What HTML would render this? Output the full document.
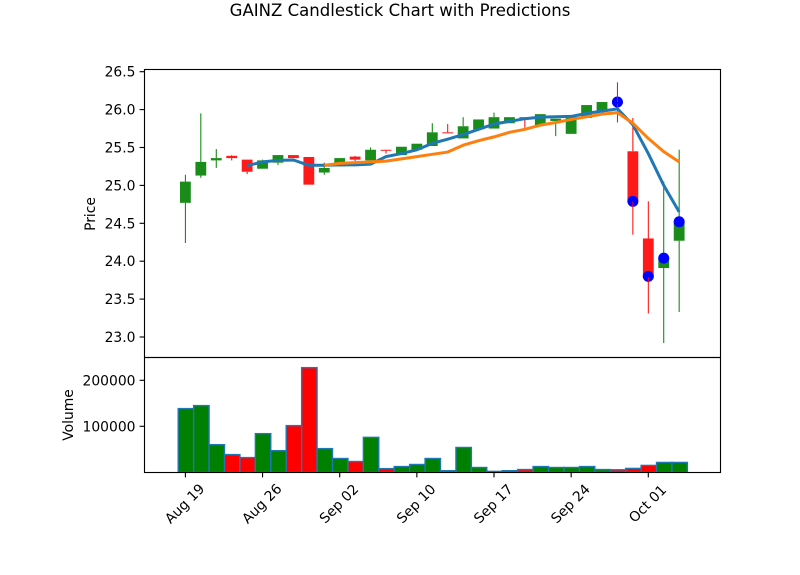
<!DOCTYPE html>
<html>
<head>
<meta charset="utf-8">
<title>GAINZ Candlestick Chart with Predictions</title>
<style>
html,body{margin:0;padding:0;background:#fff;}
svg{display:block;}
text{font-family:"DejaVu Sans","Liberation Sans",sans-serif;fill:#000;}
</style>
</head>
<body>
<svg id="chart" xmlns="http://www.w3.org/2000/svg" width="800" height="575" viewBox="0 0 800 575">
<text x="400" y="16" text-anchor="middle" font-size="16.55">GAINZ Candlestick Chart with Predictions</text>
<text transform="translate(95,214) rotate(-90)" text-anchor="middle" font-size="13.89">Price</text>
<text transform="translate(73,415) rotate(-90)" text-anchor="middle" font-size="13.89">Volume</text>
<g id="volume-layer"></g>
<g id="green-layer"></g>
<g id="red-body-layer"></g>
<g id="dot-layer"></g>
<g id="red-wick-layer"></g>
<g id="line-layer"></g>
<g id="axis-layer"></g>
</svg>
<script>
const opens = [24.77,25.13,25.33,25.39,25.34,25.22,25.30,25.40,25.375,25.17,25.25,25.38,25.33,25.47,25.40,25.47,25.52,25.70,25.62,25.74,25.75,25.82,25.90,25.79,25.85,25.68,25.89,25.97,26.10,25.45,24.30,23.91,24.27];
const highs = [25.14,25.95,25.48,25.40,25.34,25.34,25.40,25.40,25.375,25.30,25.36,25.39,25.50,25.47,25.51,25.55,25.82,25.81,25.90,25.87,25.96,25.90,25.90,25.94,25.88,25.92,26.06,26.10,26.36,25.89,24.79,25.05,25.47];
const lows = [24.24,25.10,25.23,25.33,25.15,25.22,25.27,25.36,25.01,25.14,25.25,25.32,25.33,25.42,25.40,25.47,25.52,25.69,25.62,25.74,25.75,25.82,25.76,25.79,25.65,25.68,25.89,25.97,25.83,24.35,23.31,22.92,23.33];
const closes = [25.05,25.31,25.36,25.36,25.18,25.33,25.40,25.36,25.01,25.23,25.36,25.34,25.47,25.46,25.51,25.55,25.70,25.69,25.78,25.87,25.90,25.90,25.89,25.94,25.88,25.92,26.06,26.10,26.08,24.79,23.79,24.04,24.52];
const volumes = [138500,145000,60000,38500,32000,84000,47000,101500,227500,51500,30000,23500,76000,8000,12500,17000,30000,3500,54000,10500,2000,3500,6000,12500,10500,10500,12500,6000,5500,8500,15000,21500,21500];
const blueLine = [null,null,null,null,25.26,25.31,25.33,25.335,25.265,25.265,25.27,25.27,25.28,25.38,25.42,25.47,25.555,25.61,25.67,25.74,25.81,25.845,25.88,25.90,25.905,25.91,25.95,25.98,26.01,25.80,25.42,25.00,24.65];
const orangeLine = [null,null,null,null,null,null,null,null,null,25.265,25.29,25.30,25.31,25.32,25.35,25.38,25.41,25.44,25.53,25.59,25.64,25.70,25.74,25.795,25.83,25.87,25.905,25.94,25.96,25.82,25.62,25.445,25.31];
const predictions = [null,null,null,null,null,null,null,null,null,null,null,null,null,null,null,null,null,null,null,null,null,null,null,null,null,null,null,null,26.10,24.79,23.80,24.04,24.52];
const xTickIndices = [0,5,10,15,20,25,30];
const xTickLabels = ["Aug 19","Aug 26","Sep 02","Sep 10","Sep 17","Sep 24","Oct 01"];
const priceTicks = [23,23.5,24,24.5,25,25.5,26,26.5];
const volumeTicks = [100000,200000];

const NS = "http://www.w3.org/2000/svg";
const PL = 144.5, PR = 720.5, PT = 69.5, PM = 357.5, PB = 472.5;
function xScale(i){ return 185.4 + 15.43 * i; }
function yPrice(p){ return 337 - (p - 23) * 75.8; }
function yVolume(v){ return 472.3 - v * 0.00046; }
function make(tag, parentId, attrs){
  const el = document.createElementNS(NS, tag);
  for (const k in attrs) el.setAttribute(k, attrs[k]);
  document.getElementById(parentId).appendChild(el);
  return el;
}

volumes.forEach(function(v, i){
  const up = closes[i] >= opens[i];
  const top = yVolume(v);
  const bar = make("rect", "volume-layer", {x: xScale(i) - 7.2, y: top, width: 15.43, height: 472.3 - top, fill: up ? "#008000" : "#ff0000", stroke: "#1f77b4", "stroke-width": 1.39});
  
  
});

opens.forEach(function(o, i){
  const c = closes[i];
  const up = c >= o;
  const x = xScale(i);
  const bodyTop = yPrice(Math.max(o, c));
  const bodyBottom = yPrice(Math.min(o, c));
  const color = up ? "#008000" : "#ff0000";
  const wickLayer = up ? "green-layer" : "red-wick-layer";
  const bodyLayer = up ? "green-layer" : "red-body-layer";
  const upper = make("line", wickLayer, {x1: x, x2: x, y1: yPrice(highs[i]), y2: bodyTop, stroke: color, "stroke-width": 1});
  
  
  const lower = make("line", wickLayer, {x1: x, x2: x, y1: bodyBottom, y2: yPrice(lows[i]), stroke: color, "stroke-width": 1});
  
  
  const body = make("rect", bodyLayer, {x: x - 5.4, y: bodyTop, width: 10.8, height: Math.max(bodyBottom - bodyTop, 1), fill: color, "fill-opacity": 0.9});
  
  
});

predictions.forEach(function(p, i){
  if (p === null) return;
  const dot = make("circle", "dot-layer", {cx: xScale(i), cy: yPrice(p), r: 5.5, fill: "#0000ff"});
  
  
});

function linePoints(arr){
  const pts = [];
  arr.forEach(function(v, i){ if (v !== null) pts.push(xScale(i).toFixed(2) + "," + yPrice(v).toFixed(2)); });
  return pts.join(" ");
}
const blue = make("polyline", "line-layer", {points: linePoints(blueLine), fill: "none", stroke: "#1f77b4", "stroke-width": 3, "stroke-linejoin": "round"});


const orange = make("polyline", "line-layer", {points: linePoints(orangeLine), fill: "none", stroke: "#ff7f0e", "stroke-width": 3, "stroke-linejoin": "round"});



const priceFrame = make("rect", "axis-layer", {x: PL, y: PT, width: PR - PL, height: PM - PT, fill: "none", stroke: "#000", "stroke-width": 1.11});


const volumeFrame = make("rect", "axis-layer", {x: PL, y: PM, width: PR - PL, height: PB - PM, fill: "none", stroke: "#000", "stroke-width": 1.11});



priceTicks.forEach(function(t){
  const y = yPrice(t);
  const tick = make("line", "axis-layer", {x1: PL - 4.9, x2: PL, y1: y, y2: y, stroke: "#000", "stroke-width": 1.11});
  
  
  const label = make("text", "axis-layer", {x: 135.5, y: y + 5, "text-anchor": "end", "font-size": 13.89});
  label.textContent = t.toFixed(1);
  
  
});

volumeTicks.forEach(function(t){
  const y = yVolume(t);
  const tick = make("line", "axis-layer", {x1: PL - 4.9, x2: PL, y1: y, y2: y, stroke: "#000", "stroke-width": 1.11});
  
  
  const label = make("text", "axis-layer", {x: 135.5, y: y + 5, "text-anchor": "end", "font-size": 13.89});
  label.textContent = String(t);
  
  
});

xTickIndices.forEach(function(idx, n){
  const x = xScale(idx);
  const tick = make("line", "axis-layer", {x1: x, x2: x, y1: PB, y2: PB + 4.9, stroke: "#000", "stroke-width": 1.11});
  
  
  const label = make("text", "axis-layer", {transform: "translate(" + (x - 0.9) + ",503.5) rotate(-45)", y: 5, "text-anchor": "middle", "font-size": 13.89});
  label.textContent = xTickLabels[n];
  
  
});
</script>
</body>
</html>
